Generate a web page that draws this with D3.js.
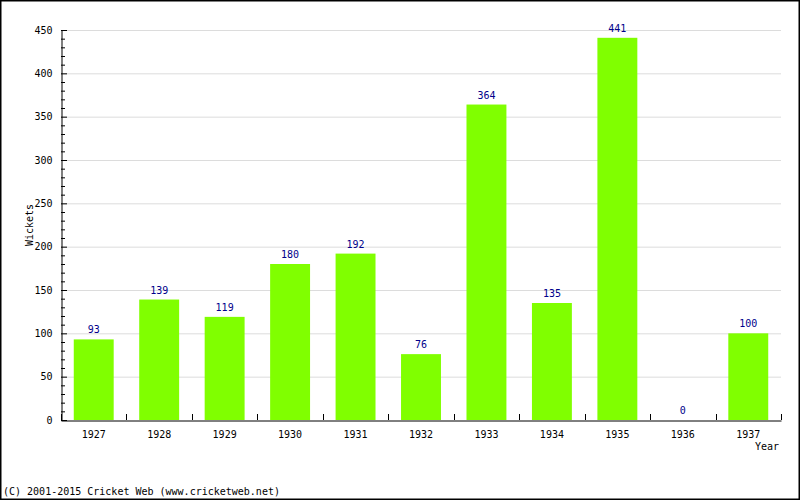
<!DOCTYPE html>
<html><head><meta charset="utf-8">
<script src="https://cdn.jsdelivr.net/npm/d3@7"></script>
<style>body{margin:0;background:#fff}svg{display:block}text{font-family:"DejaVu Sans Mono",monospace}</style>
</head><body>
<svg id="c" width="800" height="500"></svg>
<script>
const years = ["1927","1928","1929","1930","1931","1932","1933","1934","1935","1936","1937"];
const wickets = [93,139,119,180,192,76,364,135,441,0,100];
const yTicks = [0,50,100,150,200,250,300,350,400,450];

const FS = 10;
const svg = d3.select("#c");
const m = {l:61, r:19, t:30, b:80};
const W = 800, H = 500;
svg.append("rect").attr("x",0.5).attr("y",0.5).attr("width",W-1).attr("height",H-1)
  .attr("fill","#fff").attr("stroke","#000").attr("stroke-width",2);

const x = d3.scaleBand().domain(years).range([m.l, W-m.r]).paddingInner(0.39).paddingOuter(0.195);
const y = d3.scaleLinear().domain([0,450]).range([H-m.b, m.t]);

// grid
svg.append("g").selectAll("line").data(yTicks.filter(d=>d>0)).join("line")
  .attr("x1",m.l).attr("x2",W-m.r).attr("y1",d=>y(d)+0.5).attr("y2",d=>y(d)+0.5)
  .attr("stroke","#dcdcdc");

// bars
svg.append("g").selectAll("rect").data(years).join("rect")
  .attr("x",(d)=>x(d)).attr("width",x.bandwidth())
  .attr("y",(d,i)=>y(wickets[i])).attr("height",(d,i)=>y(0)-y(wickets[i]))
  .attr("fill","#80ff00");

// value labels
svg.append("g").selectAll("text").data(years).join("text")
  .attr("x",d=>x(d)+x.bandwidth()/2).attr("y",(d,i)=>y(wickets[i])-6)
  .attr("text-anchor","middle").attr("font-size",FS).attr("fill","#00008b")
  .text((d,i)=>wickets[i]);

// y axis
const ya = d3.axisLeft(y).tickValues(yTicks).tickSize(0).tickPadding(9);
const gy = svg.append("g").attr("transform",`translate(${m.l+0.5},0)`).call(ya);
gy.select(".domain").attr("stroke","#000");
gy.selectAll("text").attr("font-size",FS).attr("font-family","DejaVu Sans Mono").attr("fill","#000");
const minor = d3.range(0,451,10);
svg.append("g").selectAll("line").data(minor).join("line")
  .attr("x1",m.l).attr("x2",d=>m.l + (d%50===0?6:4)).attr("y1",d=>y(d)+0.5).attr("y2",d=>y(d)+0.5)
  .attr("stroke","#000");

// x axis
const xa = d3.axisBottom(x).tickSize(0).tickPadding(10);
const gx = svg.append("g").attr("transform",`translate(0,${y(0)+0.5})`).call(xa);
gx.select(".domain").attr("stroke","#000");
gx.selectAll("text").attr("font-size",FS).attr("font-family","DejaVu Sans Mono").attr("fill","#000");
svg.append("g").selectAll("line").data(d3.range(years.length+1)).join("line")
  .attr("x1",i=>Math.round(m.l+i*(W-m.l-m.r)/years.length)+0.5)
  .attr("x2",i=>Math.round(m.l+i*(W-m.l-m.r)/years.length)+0.5)
  .attr("y1",y(0)).attr("y2",y(0)-6).attr("stroke","#000");

// axis titles
svg.append("text").attr("x",779).attr("y",450).attr("text-anchor","end").attr("font-size",FS).text("Year");
svg.append("text").attr("transform","translate(33,225) rotate(-90)").attr("text-anchor","middle").attr("font-size",FS).text("Wickets");
svg.append("text").attr("x",3).attr("y",495).attr("font-size",FS).text("(C) 2001-2015 Cricket Web (www.cricketweb.net)");
</script>
</body></html>
